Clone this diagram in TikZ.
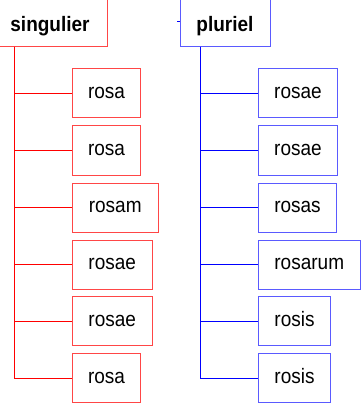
\documentclass[tikz,border=0pt]{standalone}
\usepackage{fontspec}
\usepackage{graphicx}
\setmainfont{Liberation Sans}
\definecolor{rbord}{RGB}{255,70,70}
\definecolor{bbord}{RGB}{90,90,255}
\definecolor{rline}{RGB}{255,0,0}
\definecolor{bline}{RGB}{0,0,255}
\newcommand\vtxt[1]{\scalebox{1}[1.1]{#1}}
\tikzset{
  box/.style={draw, line width=1pt, rectangle, inner sep=0pt, minimum height=49pt,
    text height=10.9pt, text depth=0pt, font=\fontsize{19}{22}\selectfont, anchor=west},
  rootbox/.style={box, minimum height=56pt, text height=24.5pt, font=\fontsize{19}{22}\selectfont\bfseries, anchor=center},
  redbox/.style={box, draw=rbord},
  bluebox/.style={box, draw=bbord},
  redline/.style={draw=rline, line width=1pt},
  blueline/.style={draw=bline, line width=1pt}
}
\begin{document}
\begin{tikzpicture}[x=1pt,y=1pt]
\useasboundingbox (0,0) rectangle (360,-406);
% left tree
\node[rootbox, draw=rbord, minimum width=114pt] (s) at (50,-19) {\vtxt{singulier}};
\coordinate (st) at (14,-47);
\node[redbox, minimum width=68pt] (a1) at (72,-93.5) {\vtxt{rosa}};
\node[redbox, minimum width=68pt] (a2) at (72,-150.5) {\vtxt{rosa}};
\node[redbox, minimum width=85.5pt] (a3) at (72,-207.5) {\vtxt{rosam}};
\node[redbox, minimum width=79.5pt] (a4) at (72,-264.5) {\vtxt{rosae}};
\node[redbox, minimum width=79.5pt] (a5) at (72,-321) {\vtxt{rosae}};
\node[redbox, minimum width=68pt] (a6) at (72,-378) {\vtxt{rosa}};
\foreach \c in {a1,a2,a3,a4,a5,a6} \draw[redline] (st) |- (\c.west);
% right tree
\node[rootbox, draw=bbord, minimum width=90pt] (p) at (225,-19) {\vtxt{pluriel}};
\coordinate (pin) at (177,-22);
\draw[blueline] (pin) -- (pin -| p.west);
\coordinate (pt) at (200,-47);
\node[bluebox, minimum width=79pt] (b1) at (258,-93.5) {\vtxt{rosae}};
\node[bluebox, minimum width=79pt] (b2) at (258,-150.5) {\vtxt{rosae}};
\node[bluebox, minimum width=78pt] (b3) at (258,-207.5) {\vtxt{rosas}};
\node[bluebox, minimum width=101.5pt] (b4) at (258,-264.5) {\vtxt{rosarum}};
\node[bluebox, minimum width=72pt] (b5) at (258,-321) {\vtxt{rosis}};
\node[bluebox, minimum width=72pt] (b6) at (258,-378) {\vtxt{rosis}};
\foreach \c in {b1,b2,b3,b4,b5,b6} \draw[blueline] (pt) |- (\c.west);
\end{tikzpicture}
\end{document}
